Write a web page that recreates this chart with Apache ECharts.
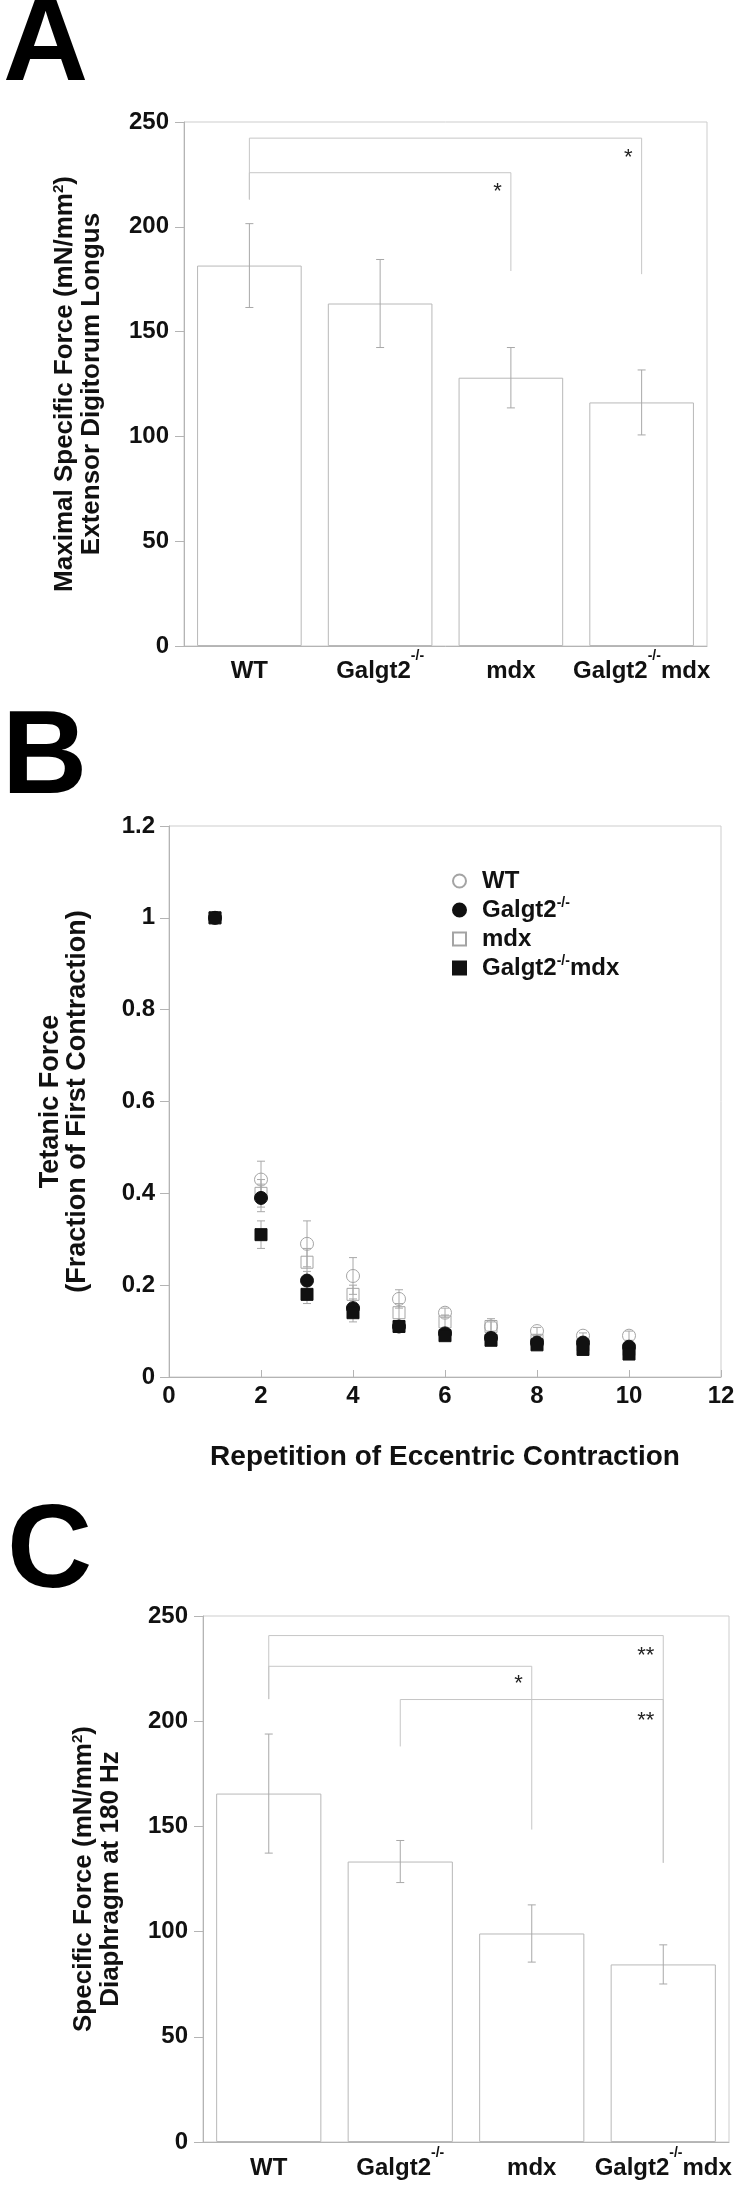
<!DOCTYPE html>
<html>
<head>
<meta charset="utf-8">
<title>Galgt2 / mdx muscle force</title>
<script src="https://cdn.jsdelivr.net/npm/echarts@6/dist/echarts.min.js"></script>
<style>
  html, body { margin: 0; padding: 0; background: #fff; }
  #chart { width: 747px; height: 2185px; }
</style>
</head>
<body>
<div id="chart"></div>
<script>
const groups = ['WT', 'Galgt2-/-', 'mdx', 'Galgt2-/-mdx']

// A: EDL maximal specific force (mN/mm2), mean and error
const edlMean = [181.5, 163.4, 128.0, 116.2]
const edlErr = [20.0, 21.0, 14.4, 15.5]
// [from, to, bracket height, left leg end, right leg end, star height]
const edlBrackets = [[0, 3, 242.3, 213, 177.4, 235.3], [0, 2, 225.8, 213, 178.9, 218.8]]
const edlStars = ['*', '*']

// B: tetanic force as fraction of the first contraction
const reps = [1, 2, 3, 4, 5, 6, 7, 8, 9, 10]
const wtForce = [1.0, 0.43, 0.29, 0.22, 0.17, 0.14, 0.11, 0.10, 0.09, 0.09]
const wtErr = [0, 0.04, 0.05, 0.04, 0.02, 0.01, 0.017, 0.008, 0.006, 0.01]
const galgtForce = [1.0, 0.39, 0.21, 0.15, 0.11, 0.095, 0.085, 0.075, 0.075, 0.066]
const galgtErr = [0, 0.03, 0.02, 0.02, 0.01, 0.01, 0.01, 0.01, 0.01, 0.01]
const mdxForce = [1.0, 0.40, 0.25, 0.18, 0.14, 0.12, 0.11, 0.08, 0.07, 0.06]
const mdxErr = [0, 0.03, 0.03, 0.02, 0.02, 0.015, 0.01, 0.01, 0.01, 0.01]
const dkoForce = [1.0, 0.31, 0.18, 0.14, 0.11, 0.09, 0.08, 0.07, 0.06, 0.05]
const dkoErr = [0, 0.03, 0.02, 0.02, 0.01, 0.01, 0.01, 0.01, 0.01, 0.01]

// C: diaphragm specific force at 180 Hz
const diaMean = [165.6, 133.3, 99.1, 84.4]
const diaErr = [28.3, 10.0, 13.6, 9.3]
const diaBrackets = [[0, 3, 240.7, 210.5, 132.7, 233.5], [0, 2, 226.1, 210.5, 148.5, 220], [1, 3, 210.3, 188, 132.7, 202.6]]
const diaStars = ['**', '*', '**']

const fontFamily = '"Liberation Sans", Arial, Helvetica, sans-serif'
const axisGray = '#b4b4b4'
const frameGray = '#cdcdcd'
const errGray = '#a8a8a8'
const openGray = '#a4a4a4'

const supLabel = v => v.replace('-/-', '{sup|-/-}')

function tickLabel(margin, extra) {
  return Object.assign({ margin, color: '#111', fontSize: 24, fontWeight: 'bold', fontFamily }, extra)
}

function nameStyle(size, lineHeight) {
  const t = { fontSize: size, fontWeight: 'bold', fontFamily, color: '#111', lineHeight }
  return {
    ...t,
    rich: { t, s: { fontSize: 15, fontWeight: 'bold', fontFamily, color: '#111', lineHeight: 14, verticalAlign: 'top' } },
  }
}

function barXAxis(gridIndex, margin) {
  return {
    type: 'category', gridIndex, data: groups,
    axisLine: { lineStyle: { color: axisGray } },
    axisTick: { inside: true, length: 9, lineStyle: { color: axisGray } },
    axisLabel: tickLabel(margin, {
      interval: 0, lineHeight: 44, formatter: supLabel,
      rich: { sup: { fontSize: 14, fontWeight: 'bold', fontFamily, color: '#111', lineHeight: 13, verticalAlign: 'top' } },
    }),
  }
}

function barYAxis(gridIndex, name, nameGap) {
  return {
    type: 'value', gridIndex, min: 0, max: 250, interval: 50,
    axisLine: { show: true, lineStyle: { color: axisGray } },
    axisTick: { show: true, length: 9, lineStyle: { color: axisGray } },
    splitLine: { show: false },
    axisLabel: tickLabel(15),
    name, nameLocation: 'middle', nameRotate: 90, nameGap,
    nameTextStyle: nameStyle(26, 27),
  }
}

function errorBars(params, api) {
  const x = api.value(0)
  const lo = api.coord([x, api.value(1)])
  const hi = api.coord([x, api.value(2)])
  const style = { stroke: errGray, lineWidth: 1 }
  return {
    type: 'group',
    children: [
      { type: 'line', shape: { x1: lo[0], y1: lo[1], x2: hi[0], y2: hi[1] }, style },
      { type: 'line', shape: { x1: lo[0] - 4, y1: lo[1], x2: lo[0] + 4, y2: lo[1] }, style },
      { type: 'line', shape: { x1: hi[0] - 4, y1: hi[1], x2: hi[0] + 4, y2: hi[1] }, style },
    ],
  }
}

function brackets(stars) {
  return function (params, api) {
    const from = api.value(0), to = api.value(1)
    const a = api.coord([from, api.value(3)])
    const b = api.coord([from, api.value(2)])
    const c = api.coord([to, api.value(2)])
    const d = api.coord([to, api.value(4)])
    const s = api.coord([to, api.value(5)])
    return {
      type: 'group',
      children: [
        { type: 'polyline', shape: { points: [a, b, c, d] }, style: { stroke: '#c6c6c6', lineWidth: 1, fill: 'none' } },
        { type: 'text', x: s[0] - 9, y: s[1] + 5,
          style: { text: stars[params.dataIndex], fill: '#222', fontSize: 22, fontFamily, align: 'right', verticalAlign: 'middle' } },
      ],
    }
  }
}

function barSeries(axis, means, errs, bracketData, stars) {
  return [
    {
      type: 'bar', xAxisIndex: axis, yAxisIndex: axis, data: means, barWidth: '80%', z: 2,
      itemStyle: { color: '#fff', borderColor: '#b8b8b8', borderWidth: 1 },
    },
    {
      type: 'custom', xAxisIndex: axis, yAxisIndex: axis, z: 3, renderItem: errorBars,
      data: means.map((m, i) => [i, m - errs[i], m + errs[i]]),
    },
    {
      type: 'custom', xAxisIndex: axis, yAxisIndex: axis, z: 3, renderItem: brackets(stars),
      encode: { x: 0, y: 2 }, data: bracketData,
    },
  ]
}

const markers = [
  { symbol: 'circle', size: 13, fill: 'rgba(0,0,0,0)', stroke: openGray, z: 4 },
  { symbol: 'circle', size: 13, fill: '#111', stroke: '#111', z: 6 },
  { symbol: 'rect', size: 12, fill: 'rgba(0,0,0,0)', stroke: openGray, z: 5 },
  { symbol: 'rect', size: 12, fill: '#111', stroke: '#111', z: 7 },
]
const forces = [[wtForce, wtErr], [galgtForce, galgtErr], [mdxForce, mdxErr], [dkoForce, dkoErr]]

const fatigueSeries = []
forces.forEach(([vals, errs], g) => {
  const m = markers[g]
  fatigueSeries.push({
    type: 'custom', xAxisIndex: 1, yAxisIndex: 1, z: 3, renderItem: errorBars,
    data: reps.filter((r, i) => errs[i] > 0).map(r => [r, vals[r - 1] - errs[r - 1], vals[r - 1] + errs[r - 1]]),
  })
  fatigueSeries.push({
    name: groups[g], type: 'scatter', xAxisIndex: 1, yAxisIndex: 1, z: m.z,
    symbol: m.symbol, symbolSize: m.size,
    itemStyle: { color: m.fill, borderColor: m.stroke, borderWidth: 1, opacity: 1 },
    data: reps.map((r, i) => [r, vals[i]]),
  })
})

function letter(text, x, y) {
  return {
    type: 'text', x, y,
    style: { text, fill: '#000', fontSize: 118, fontWeight: 'bold', fontFamily, align: 'left', verticalAlign: 'middle' },
  }
}

const chart = echarts.init(document.getElementById('chart'), null, { renderer: 'canvas' })
chart.setOption({
  animation: false,
  backgroundColor: '#fff',
  graphic: [letter('A', 3, 47), letter('B', 2, 760), letter('C', 7, 1554)],
  grid: [
    { left: 184, top: 122, width: 523, height: 524, show: true, borderColor: frameGray, borderWidth: 1, outerBoundsMode: 'none' },
    { left: 169, top: 826, width: 552, height: 551, show: true, borderColor: frameGray, borderWidth: 1, outerBoundsMode: 'none' },
    { left: 203, top: 1616, width: 526, height: 526, show: true, borderColor: frameGray, borderWidth: 1, outerBoundsMode: 'none' },
  ],
  legend: {
    data: groups, orient: 'vertical', left: 447, top: 862,
    itemWidth: 13, itemHeight: 13, itemGap: 1, selectedMode: false,
    formatter: supLabel,
    textStyle: {
      color: '#111', fontSize: 24, fontWeight: 'bold', fontFamily, lineHeight: 28, padding: [0, 0, 0, 11],
      rich: { sup: { fontSize: 14, fontWeight: 'bold', fontFamily, color: '#111', lineHeight: 12, verticalAlign: 'top' } },
    },
  },
  xAxis: [
    barXAxis(0, 3),
    {
      type: 'value', gridIndex: 1, min: 0, max: 12, interval: 2,
      axisLine: { lineStyle: { color: axisGray } },
      axisTick: { inside: true, length: 7, lineStyle: { color: axisGray } },
      splitLine: { show: false },
      axisLabel: tickLabel(7),
      name: 'Repetition of Eccentric Contraction', nameLocation: 'middle', nameGap: 66,
      nameTextStyle: { fontSize: 28, fontWeight: 'bold', fontFamily, color: '#111' },
    },
    barXAxis(2, 4),
  ],
  yAxis: [
    barYAxis(0, '{t|Maximal Specific Force (mN/mm}{s|2}{t|)}\n{t|Extensor Digitorum Longus}', 79),
    {
      type: 'value', gridIndex: 1, min: 0, max: 1.2, interval: 0.2,
      axisLine: { show: true, lineStyle: { color: axisGray } },
      axisTick: { show: true, length: 9, lineStyle: { color: axisGray } },
      splitLine: { show: false },
      axisLabel: tickLabel(14),
      name: 'Tetanic Force\n(Fraction of First Contraction)', nameLocation: 'middle', nameRotate: 90, nameGap: 78,
      nameTextStyle: { fontSize: 27, fontWeight: 'bold', fontFamily, color: '#111', lineHeight: 27 },
    },
    barYAxis(2, '{t|Specific Force (mN/mm}{s|2}{t|)}\n{t|Diaphragm at 180 Hz}', 79),
  ],
  series: [
    ...barSeries(0, edlMean, edlErr, edlBrackets, edlStars),
    ...fatigueSeries,
    ...barSeries(2, diaMean, diaErr, diaBrackets, diaStars),
  ],
})
</script>
</body>
</html>
